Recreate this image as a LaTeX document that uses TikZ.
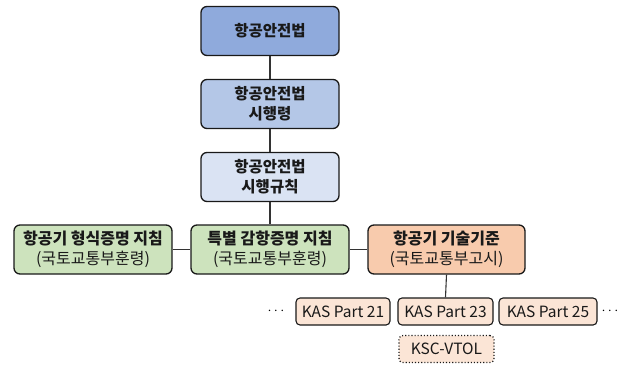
\documentclass[tikz,border=0pt]{standalone}
\usepackage{fontspec}
\setmainfont{Noto Sans CJK KR}
\begin{document}
\begin{tikzpicture}[x=1pt,y=-1pt,
  box/.style={draw=black!90,line width=1.3pt,rounded corners=6pt,align=center,text=black!90,inner sep=1pt,font=\fontsize{16}{20}\selectfont},
  lawbox/.style={box,minimum width=138pt,minimum height=49pt,font=\fontsize{15.5}{20}\selectfont\bfseries},
  midbox/.style={box,minimum width=158pt,minimum height=49pt},
  kasbox/.style={draw=black!90,line width=1.1pt,rounded corners=4pt,fill=kas,minimum width=95pt,minimum height=27pt,inner sep=1pt,font=\fontsize{15.5}{18}\selectfont,text=black!90},
  link/.style={draw=black!80,line width=1.1pt}
]
\definecolor{lawA}{HTML}{8FAADC}
\definecolor{lawB}{HTML}{B4C7E7}
\definecolor{lawC}{HTML}{DAE3F3}
\definecolor{grn}{HTML}{CDE3BD}
\definecolor{org}{HTML}{F8CBAD}
\definecolor{kas}{HTML}{FBE5D6}
\useasboundingbox (0,0) rectangle (626,365);
\node[lawbox,fill=lawA] (law) at (270,31) {항공안전법};
\node[lawbox,fill=lawB] (dec) at (270,104) {항공안전법\\시행령};
\node[lawbox,fill=lawC] (rul) at (270,177) {항공안전법\\시행규칙};
\node[midbox,fill=grn] (tc) at (93,249.5) {\textbf{항공기 형식증명 지침}\\(국토교통부훈령)};
\node[midbox,fill=grn] (sp) at (270,249.5) {\textbf{특별 감항증명 지침}\\(국토교통부훈령)};
\node[midbox,fill=org,minimum width=157pt] (ts) at (446.5,249.5) {\textbf{항공기 기술기준}\\(국토교통부고시)};
\node[kasbox,minimum width=94pt] (k21) at (343,311.5) {KAS Part 21};
\node[kasbox] (k23) at (445.5,311.5) {KAS Part 23};
\node[kasbox,minimum width=98pt] (k25) at (548,311.5) {KAS Part 25};
\node[kasbox,dotted,line width=1.2pt] (ksc) at (446.5,349) {KSC-VTOL};
\node[font=\fontsize{15}{17}\selectfont] (dl) at (276,311) {$\cdots$};
\node[font=\fontsize{15}{17}\selectfont] (dr) at (610,311) {$\cdots$};
\draw[link] (law.south) -- (dec.north);
\draw[link] (dec.south) -- (rul.north);
\draw[link] (rul.south) -- (sp.north);
\draw[link] (tc.east) -- (sp.west);
\draw[link] (sp.east) -- (ts.west);
\draw[link] (ts.south) -- (k23.north);
\end{tikzpicture}
\end{document}
